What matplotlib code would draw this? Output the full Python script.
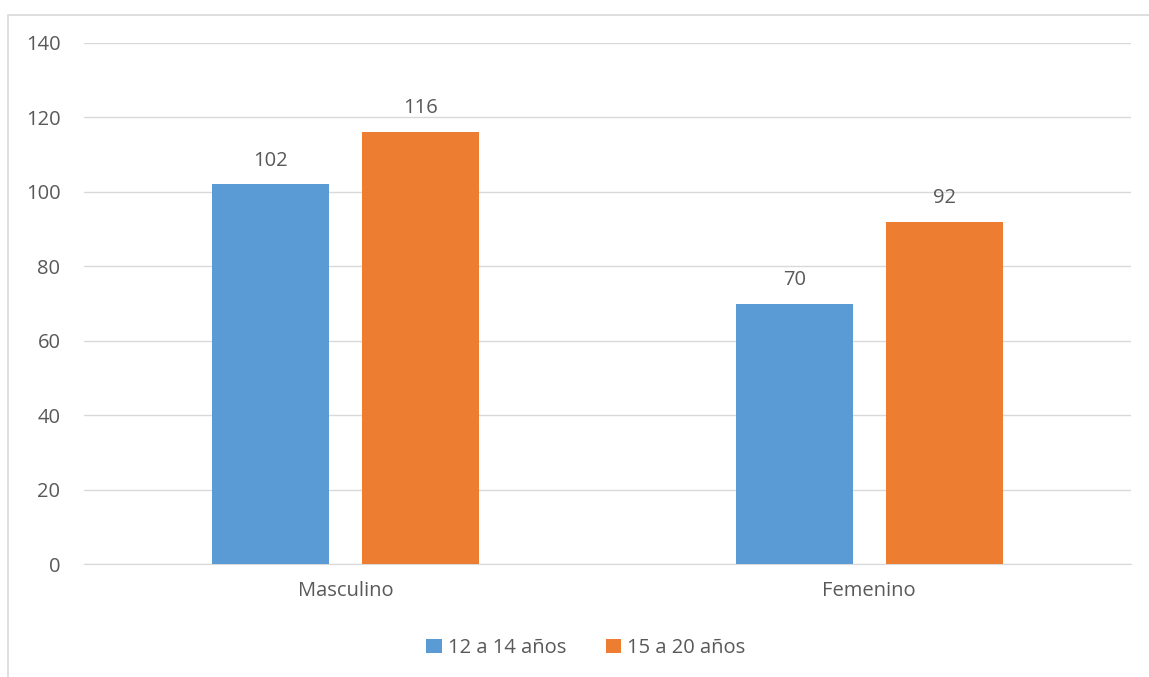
import matplotlib.pyplot as plt
from matplotlib.patches import Rectangle
import numpy as np

categorias = ['Masculino', 'Femenino']
serie_12_14 = [102, 70]
serie_15_20 = [116, 92]
nombres = ['12 a 14 años', '15 a 20 años']
colores = ['#5b9bd5', '#ed7d31']

plt.rcParams['font.family'] = ['Open Sans', 'DejaVu Sans']
gris = '#595959'
tam = 14.5

fig = plt.figure(figsize=(11.49, 6.77), dpi=100)
ax = fig.add_axes([84 / 1149, 113 / 677, 1047 / 1149, 521 / 677])

x = np.arange(len(categorias))
ancho = 0.2235
desp = 0.143
b1 = ax.bar(x - desp, serie_12_14, ancho, color=colores[0], label=nombres[0], zorder=3)
b2 = ax.bar(x + desp, serie_15_20, ancho, color=colores[1], label=nombres[1], zorder=3)
for barras in (b1, b2):
    ax.bar_label(barras, padding=10, fontsize=tam, color=gris)

ax.set_xlim(-0.5, 1.5)
ax.set_ylim(0, 140)
ax.set_yticks(range(0, 141, 20))
ax.set_xticks(x)
ax.set_xticklabels(categorias)
ax.grid(axis='y', color='#d9d9d9', linewidth=1, zorder=0)
for s in ['top', 'right', 'left']:
    ax.spines[s].set_visible(False)
ax.spines['bottom'].set_color('#d9d9d9')
ax.tick_params(axis='both', length=0, labelsize=tam, colors=gris)
ax.tick_params(axis='y', pad=17)
ax.tick_params(axis='x', pad=12)

ax.legend(loc='center', bbox_to_anchor=(586 / 1149, 29 / 677), bbox_transform=fig.transFigure,
          ncol=2, frameon=False, fontsize=tam, labelcolor=gris, handlelength=0.75,
          handleheight=0.75, handletextpad=0.3, columnspacing=2.0)

fig.patches.append(Rectangle((8 / 1149, -0.05), 1.5, 1 - 15 / 677 + 0.05, transform=fig.transFigure,
                             fill=False, edgecolor='#d9d9d9', linewidth=1.2))

fig.savefig('out.png', dpi=100)
